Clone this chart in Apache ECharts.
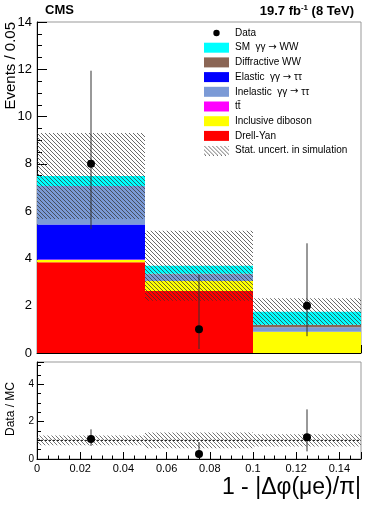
<!DOCTYPE html>
<html>
<head>
<meta charset="utf-8">
<script src="https://cdn.jsdelivr.net/npm/echarts@6/dist/echarts.min.js"></script>
<style>
  html, body { margin: 0; padding: 0; background: #fff; }
  #chart { width: 374px; height: 506px; }
</style>
</head>
<body>
<div id="chart"></div>
<script>
  // bins of 1 - |dphi(mu e)/pi|
  const binEdges = [0, 0.05, 0.1, 0.15];
  const binCenters = [0.025, 0.075, 0.125];

  // stacked MC, bottom to top
  const drellYan = [3.84, 2.62, 0];
  const diboson = [0.09, 0.43, 0.90];
  const ttbar = [0.02, 0, 0];
  const elastic = [1.48, 0, 0];
  const inelastic = [1.63, 0.28, 0.19];
  const diffractive = [0, 0.02, 0.10];
  const smWW = [0.43, 0.34, 0.56];
  const mcStatUnc = [1.82, 1.48, 0.57];

  // data with asymmetric poisson errors
  const dataVals = [8, 1, 2];
  const dataLow = [5.24, 0.17, 0.71];
  const dataHigh = [11.94, 3.30, 4.64];

  // ratio panel
  const ratioVals = [1.07, 0.27, 1.16];
  const ratioLow = [0.70, 0.05, 0.41];
  const ratioHigh = [1.59, 0.90, 2.66];
  const ratioUnc = [0.26, 0.42, 0.33];

  const font = 'Liberation Sans, Arial, Helvetica, sans-serif';

  // hatch pattern like ROOT fill style
  function makeHatch(w, h, color) {
    const c = document.createElement('canvas');
    c.width = w; c.height = h;
    const ctx = c.getContext('2d');
    ctx.fillStyle = color;
    for (let y = 0; y < h; y++) {
      for (let x = 0; x < w; x++) {
        if (((x - y) % 4 + 4) % 4 === 0) ctx.fillRect(x, y, 1, 1);
      }
    }
    return c;
  }
  const hatchFill = {image: makeHatch(4, 4, 'rgba(50,50,50,0.72)'), repeat: 'repeat'};
  const ratioHatchFill = {image: makeHatch(4, 4, 'rgba(60,60,60,0.7)'), repeat: 'repeat'};

  const legendHatch = makeHatch(25, 10, 'rgba(55,55,55,0.7)').toDataURL();
  const dotCanvas = document.createElement('canvas');
  dotCanvas.width = 25; dotCanvas.height = 10;
  (function () {
    const ctx = dotCanvas.getContext('2d');
    ctx.fillStyle = '#000';
    ctx.beginPath();
    ctx.arc(12.5, 5, 3.2, 0, Math.PI * 2);
    ctx.fill();
  })();
  const legendDot = dotCanvas.toDataURL();

  const processes = [
    {name: 'Drell-Yan', values: drellYan, color: '#ff0000'},
    {name: 'Inclusive diboson', values: diboson, color: '#ffff00'},
    {name: 't\u0074\u0304', values: ttbar, color: '#ff00ff'},
    {name: 'Elastic  γγ → ττ', values: elastic, color: '#0000ff'},
    {name: 'Inelastic  γγ → ττ', values: inelastic, color: '#7b9ad6'},
    {name: 'Diffractive WW', values: diffractive, color: '#8b6655'},
    {name: 'SM  γγ → WW', values: smWW, color: '#00ffff'},
  ];

  function rectRender(fill) {
    return function (params, api) {
      const a = api.coord([api.value(0), api.value(3)]);
      const b = api.coord([api.value(1), api.value(2)]);
      return {
        type: 'rect',
        shape: {x: a[0], y: a[1], width: b[0] - a[0], height: b[1] - a[1]},
        style: {fill: fill},
      };
    };
  }

  function errRender(params, api) {
    const a = api.coord([api.value(0), api.value(1)]);
    const b = api.coord([api.value(0), api.value(2)]);
    return {
      type: 'line',
      shape: {x1: a[0], y1: a[1], x2: b[0], y2: b[1]},
      style: {stroke: '#333', lineWidth: 1},
    };
  }

  const series = [];
  const base = [0, 0, 0];
  processes.forEach(p => {
    series.push({
      name: p.name,
      type: 'custom',
      xAxisIndex: 0, yAxisIndex: 0,
      itemStyle: {color: p.color},
      renderItem: rectRender(p.color),
      encode: {x: [0, 1], y: [2, 3]},
      data: p.values.map((v, i) => [binEdges[i], binEdges[i + 1], base[i], base[i] + v]),
      clip: true,
    });
    p.values.forEach((v, i) => base[i] += v);
  });
  const total = base.slice();

  series.push({
    name: 'Stat. uncert. in simulation',
    type: 'custom',
    xAxisIndex: 0, yAxisIndex: 0,
    itemStyle: {color: '#888'},
    renderItem: rectRender(hatchFill),
    encode: {x: [0, 1], y: [2, 3]},
    data: total.map((t, i) => [binEdges[i], binEdges[i + 1], t - mcStatUnc[i], t + mcStatUnc[i]]),
  });
  series.push({
    type: 'custom',
    xAxisIndex: 0, yAxisIndex: 0,
    renderItem: errRender,
    encode: {x: 0, y: [1, 2]},
    data: binCenters.map((x, i) => [x, dataLow[i], dataHigh[i]]),
    z: 5,
  });
  series.push({
    name: 'Data',
    type: 'scatter',
    xAxisIndex: 0, yAxisIndex: 0,
    symbolSize: 8,
    itemStyle: {color: '#000', opacity: 1},
    data: binCenters.map((x, i) => [x, dataVals[i]]),
    z: 6,
  });

  // ratio panel
  series.push({
    type: 'custom',
    xAxisIndex: 1, yAxisIndex: 1,
    renderItem: rectRender(ratioHatchFill),
    encode: {x: [0, 1], y: [2, 3]},
    data: ratioUnc.map((u, i) => [binEdges[i], binEdges[i + 1], 1 - u, 1 + u]),
  });
  series.push({
    type: 'line',
    xAxisIndex: 1, yAxisIndex: 1,
    showSymbol: false,
    lineStyle: {color: '#000', width: 1, type: [2, 2]},
    data: [[0, 1], [0.15, 1]],
  });
  series.push({
    type: 'custom',
    xAxisIndex: 1, yAxisIndex: 1,
    renderItem: errRender,
    encode: {x: 0, y: [1, 2]},
    data: binCenters.map((x, i) => [x, ratioLow[i], ratioHigh[i]]),
    z: 5,
  });
  series.push({
    type: 'scatter',
    xAxisIndex: 1, yAxisIndex: 1,
    symbolSize: 8,
    itemStyle: {color: '#000', opacity: 1},
    data: binCenters.map((x, i) => [x, ratioVals[i]]),
    z: 6,
  });

  function xAxis(idx, showLabels, tickLen) {
    return {
      type: 'value', gridIndex: idx, min: 0, max: 0.15, interval: 0.02,
      axisLine: {show: true, onZero: false, lineStyle: {color: '#000', width: 1}},
      axisTick: {show: true, inside: true, length: tickLen, lineStyle: {color: '#000'}},
      minorTick: {show: true, splitNumber: 4, length: tickLen / 2, lineStyle: {color: '#000'}},
      splitLine: {show: false},
      axisLabel: {show: showLabels, fontSize: 11, fontFamily: font, color: '#000', margin: 4, showMaxLabel: false},
    };
  }

  const chart = echarts.init(document.getElementById('chart'), null, {renderer: 'canvas'});
  chart.setOption({
    animation: false,
    backgroundColor: '#fff',
    grid: [
      {left: 37, top: 22, width: 324, height: 331, show: true, borderColor: '#999', borderWidth: 1},
      {left: 37, top: 362, width: 324, height: 97, show: true, borderColor: '#999', borderWidth: 1},
    ],
    xAxis: [xAxis(0, false, 8), xAxis(1, true, 7)],
    yAxis: [
      {
        type: 'value', gridIndex: 0, min: 0, max: 14, interval: 2,
        axisLine: {show: true, lineStyle: {color: '#000'}},
        axisTick: {show: true, inside: true, length: 10, lineStyle: {color: '#000'}},
        minorTick: {show: true, splitNumber: 4, length: 5, lineStyle: {color: '#000'}},
        splitLine: {show: false},
        axisLabel: {fontSize: 13, fontFamily: font, color: '#000', margin: 5},
      },
      {
        type: 'value', gridIndex: 1, min: 0, max: 5.2, interval: 2,
        axisLine: {show: true, lineStyle: {color: '#000'}},
        axisTick: {show: true, inside: true, length: 7, lineStyle: {color: '#000'}},
        minorTick: {show: true, splitNumber: 4, length: 4, lineStyle: {color: '#000'}},
        splitLine: {show: false},
        axisLabel: {fontSize: 10, fontFamily: font, color: '#000', margin: 3, showMaxLabel: false},
      },
    ],
    legend: {
      orient: 'vertical',
      left: 204, top: 28,
      itemWidth: 25, itemHeight: 10, itemGap: 4.7,
      padding: 0,
      textStyle: {
        fontSize: 10, fontFamily: font, color: '#000', padding: [0, 0, 0, 1],
        rich: {arr: {fontSize: 10, fontFamily: 'DejaVu Sans', color: '#000'}},
      },
      formatter: name => name.replace('→', '{arr|→}'),
      selectedMode: false,
      data: [
        {name: 'Data', icon: 'image://' + legendDot},
        {name: 'SM  γγ → WW', icon: 'rect'},
        {name: 'Diffractive WW', icon: 'rect'},
        {name: 'Elastic  γγ → ττ', icon: 'rect'},
        {name: 'Inelastic  γγ → ττ', icon: 'rect'},
        {name: 't\u0074\u0304', icon: 'rect'},
        {name: 'Inclusive diboson', icon: 'rect'},
        {name: 'Drell-Yan', icon: 'rect'},
        {name: 'Stat. uncert. in simulation', icon: 'image://' + legendHatch},
      ],
    },
    graphic: [
      {type: 'text', left: 45, top: 4, style: {text: 'CMS', font: 'bold 13px ' + font, fill: '#000'}},
      {
        type: 'text', x: 354, y: 4,
        style: {
          text: '{a|19.7 fb}{s|-1}{a| (8 TeV)}',
          align: 'right', verticalAlign: 'top',
          rich: {
            a: {fontSize: 13, fontWeight: 'bold', fontFamily: font, fill: '#000'},
            s: {fontSize: 8, fontWeight: 'bold', fontFamily: font, fill: '#000', padding: [0, 0, 7, 0]},
          },
        },
      },
      {
        type: 'text', x: 3, y: 22, rotation: Math.PI / 2,
        style: {text: 'Events / 0.05', font: '15px ' + font, fill: '#000', align: 'right', verticalAlign: 'top'},
      },
      {
        type: 'text', x: 5, y: 409, rotation: Math.PI / 2,
        style: {text: 'Data / MC', font: '12px ' + font, fill: '#000', align: 'center', verticalAlign: 'top'},
      },
      {
        type: 'text', x: 361, y: 488,
        style: {text: '1 - |Δφ(μe)/π|', font: '23px ' + font, fill: '#000', align: 'right', verticalAlign: 'middle'},
      },
    ],
    series: series,
  });
</script>
</body>
</html>
